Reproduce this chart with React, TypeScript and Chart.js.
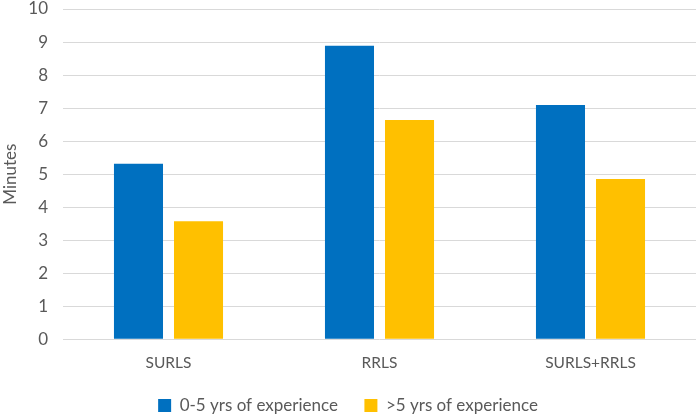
import React, { useEffect, useRef } from "react";
import { Chart, registerables } from "chart.js";

Chart.register(...registerables);

const categories = ["SURLS", "RRLS", "SURLS+RRLS"];
const juniorValues = [5.31, 8.89, 7.09];
const seniorValues = [3.57, 6.64, 4.85];
const seriesLabels = ["0-5 yrs of experience", ">5 yrs of experience"];
const yTicks = [0, 1, 2, 3, 4, 5, 6, 7, 8, 9, 10];

export default function App() {
  const ref = useRef<HTMLCanvasElement | null>(null);
  useEffect(() => {
    document.body.style.margin = "0";
    const ctx = ref.current!;
    const font = "Lato, 'Open Sans', sans-serif";
    const chart = new Chart(ctx, {
      type: "bar",
      data: {
        labels: categories,
        datasets: [
          {
            label: seriesLabels[0],
            data: juniorValues,
            backgroundColor: "#0070C0",
            categoryPercentage: 0.569,
            barPercentage: 0.817,
          },
          {
            label: seriesLabels[1],
            data: seniorValues,
            backgroundColor: "#FFC000",
            categoryPercentage: 0.569,
            barPercentage: 0.817,
          },
        ],
      },
      options: {
        responsive: false,
        animation: false,
        maintainAspectRatio: false,
        layout: { padding: { top: 9, right: 4, bottom: -10, left: 0 } },
        plugins: {
          tooltip: { enabled: false },
          legend: {
            position: "bottom",
            labels: {
              boxWidth: 13,
              boxHeight: 13,
              padding: 26.5,
              color: "#595959",
              font: { family: font, size: 17 },
            },
          },
        },
        scales: {
          x: {
            grid: { display: false, drawTicks: false },
            border: { display: false },
            ticks: {
              color: "#595959",
              padding: 14,
              font: { family: font, size: 15.5 },
            },
            afterFit: (s: any) => {
              s.height = 31.3;
              s.paddingLeft = 0;
              s.paddingRight = 0;
            },
          },
          y: {
            min: 0,
            max: 10,
            afterBuildTicks: (s: any) => {
              s.ticks = yTicks.map((v) => ({ value: v }));
            },
            grid: { color: "#d9d9d9", lineWidth: 1, drawTicks: false },
            border: { display: false },
            ticks: {
              color: "#595959",
              padding: 15,
              font: { family: font, size: 17 },
            },
            title: {
              display: true,
              text: "Minutes",
              color: "#595959",
              padding: { top: 0, bottom: 0 },
              font: { family: font, size: 17 },
            },
            afterFit: (s: any) => {
              s.width = 63;
              s.paddingTop = 0;
              s.paddingBottom = 0;
            },
          },
        },
      },
    });
    return () => chart.destroy();
  }, []);
  return (
    <div style={{ width: 700, height: 414 }}>
      <canvas ref={ref} width={700} height={414} />
    </div>
  );
}
